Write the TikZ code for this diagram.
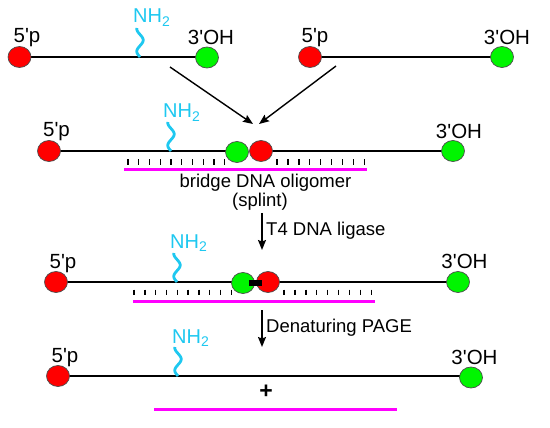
\documentclass[tikz,border=0pt]{standalone}
\usepackage{fontspec}
\setmainfont{Liberation Sans}
\usetikzlibrary{shapes.geometric,arrows.meta}
\definecolor{beadred}{RGB}{255,0,0}
\definecolor{beadgreen}{RGB}{0,245,0}
\definecolor{aminecol}{RGB}{30,200,240}
\definecolor{splintcol}{RGB}{255,0,255}
\begin{document}
\begin{tikzpicture}[x=1pt,y=-1pt,
  bead/.style={ellipse,draw=black!70,line width=0.7pt,minimum width=23pt,minimum height=21pt,inner sep=0pt},
  redbead/.style={bead,fill=beadred},
  greenbead/.style={bead,fill=beadgreen},
  strand/.style={line width=1.4pt},
  lbl/.style={font=\fontsize{20.5}{23}\selectfont,inner sep=0pt,anchor=base},
  nhlbl/.style={font=\fontsize{20}{23}\selectfont,inner sep=0pt,anchor=base west,text=aminecol},
  steplbl/.style={font=\fontsize{18.5}{21}\selectfont,inner sep=0pt,anchor=base west},
  midlbl/.style={font=\fontsize{18.5}{21}\selectfont,inner sep=0pt,anchor=base},
  amine/.style={draw=aminecol,line width=2.8pt},
  splint/.style={draw=splintcol,line width=3pt},
  tickmark/.style={line width=1.4pt},
  arr/.style={line width=1.4pt,-{Stealth[length=10pt,width=8pt,inset=1.5pt]}},
  nhtwo/.pic={\draw[amine] plot[domain=0:29,samples=40,smooth] ({-3.2*sin(\x*16)},{-\x});}
]
\useasboundingbox (0,0) rectangle (550,428);

% ---------------- Row 1 ----------------
\coordinate (a1) at (140,57);
\draw[strand] (19.5,57) coordinate (l1s) -- (207,57) coordinate (l1e);
\pic at (a1) {nhtwo};
\node[redbead] (r1) at (l1s) {};
\node[greenbead] (g1) at (207,57.5) {};
\draw[strand] (310,57) coordinate (l2s) -- (502,57) coordinate (l2e);
\node[redbead] (r2) at (l2s) {};
\node[greenbead] (g2) at (l2e) {};
\node[lbl] (p1) at (27,43) {5\textquotesingle p};
\node[lbl] (oh1) at (211,45) {3\textquotesingle OH};
\node[nhlbl] (nh1) at (133,23) {NH\textsubscript{2}};
\node[lbl] (p2) at (315,43) {5\textquotesingle p};
\node[lbl] (oh2) at (507,45) {3\textquotesingle OH};

% arrows to row 2
\coordinate (d1s) at (170,67);
\coordinate (d1e) at (253,124);
\coordinate (d2s) at (336,66);
\coordinate (d2e) at (259,124);
\draw[arr] (d1s) -- (d1e);
\draw[arr] (d2s) -- (d2e);

% ---------------- Row 2 ----------------
\coordinate (a2) at (171,151);
\draw[strand] (49,151) coordinate (l3s) -- (237,151) coordinate (l3e);
\draw[strand] (261,151) coordinate (l4s) -- (453,151) coordinate (l4e);
\pic at (a2) {nhtwo};
\foreach \i in {0,...,9} \draw[tickmark] ({128+10.75*\i},159.5) -- ++(0,5.5);
\foreach \i in {0,...,8} \draw[tickmark] ({277+10.9*\i},159.5) -- ++(0,5.5);
\draw[splint] (124,170) coordinate (s1s) -- (367,170) coordinate (s1e);
\node[redbead] (r3) at (l3s) {};
\node[greenbead] (g3) at (237,152) {};
\node[redbead] (r4) at (l4s) {};
\node[greenbead] (g4) at (l4e) {};
\node[lbl] (p3) at (56.5,137) {5\textquotesingle p};
\node[nhlbl] (nh2) at (163,118) {NH\textsubscript{2}};
\node[lbl] (oh3) at (459,139) {3\textquotesingle OH};
\node[midlbl] (br) at (265.5,188) {bridge DNA oligomer};
\node[midlbl] (sp) at (260,207) {(splint)};

% arrow T4
\coordinate (v1s) at (262,213);
\coordinate (v1e) at (262,250);
\draw[arr] (v1s) -- (v1e);
\node[steplbl] (t4) at (266,236) {T4 DNA ligase};

% ---------------- Row 3 ----------------
\coordinate (a3) at (177,282);
\draw[strand] (56,282) coordinate (l5s) -- (243,282) coordinate (l5e);
\draw[strand] (268,282) coordinate (l6s) -- (458,282) coordinate (l6e);
\pic at (a3) {nhtwo};
\foreach \i in {0,...,9} \draw[tickmark] ({134+10.8*\i},289.5) -- ++(0,5.5);
\foreach \i in {0,...,8} \draw[tickmark] ({284+10.9*\i},289.5) -- ++(0,5.5);
\draw[splint] (133,301) coordinate (s2s) -- (375,301) coordinate (s2e);
\node[redbead] (r5) at (l5s) {};
\node[greenbead] (g5) at (243,283) {};
\node[redbead] (r6) at (l6s) {};
\node[greenbead] (g6) at (l6e) {};
\fill (249,280) rectangle (262,286);
\node[lbl] (p5) at (63,269) {5\textquotesingle p};
\node[nhlbl] (nh3) at (170,248) {NH\textsubscript{2}};
\node[lbl] (oh5) at (464.5,269) {3\textquotesingle OH};

% arrow PAGE
\coordinate (v2s) at (262,310);
\coordinate (v2e) at (262,347);
\draw[arr] (v2s) -- (v2e);
\node[steplbl] (pg) at (266,332) {Denaturing PAGE};

% ---------------- Row 4 ----------------
\coordinate (a4) at (178,376);
\draw[strand] (58,376) coordinate (l7s) -- (471,376) coordinate (l7e);
\pic at (a4) {nhtwo};
\node[redbead] (r7) at (l7s) {};
\node[greenbead] (g7) at (471,377.5) {};
\node[lbl] (p7) at (65,362) {5\textquotesingle p};
\node[nhlbl] (nh4) at (172,343) {NH\textsubscript{2}};
\node[lbl] (oh7) at (474.5,364) {3\textquotesingle OH};
\node[lbl,font=\fontsize{23}{25}\selectfont\bfseries] (plus) at (266,398) {+};
\draw[splint] (154,409) coordinate (s3s) -- (397,409) coordinate (s3e);
\end{tikzpicture}
\end{document}
